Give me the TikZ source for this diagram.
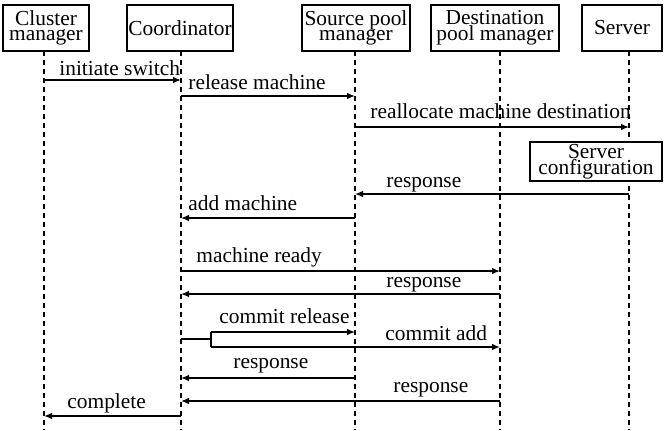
\documentclass[tikz,border=0pt]{standalone}
\usepackage{fontspec}
\setmainfont{Liberation Serif}
\usetikzlibrary{arrows.meta}

\begin{document}
\begin{tikzpicture}[x=0.5pt,y=-0.5pt,
  font=\fontsize{10.7}{7.8}\selectfont,
  actor/.style={draw, line width=0.9pt, fill=white, minimum height=23pt, inner sep=0pt, align=center},
  lifeline/.style={dash pattern=on 2.5pt off 2pt, line width=0.8pt},
  msg/.style={-{Latex[length=4pt,width=3.4pt]}, line width=0.8pt},
  lbl/.style={anchor=base west, inner sep=0pt}]

\useasboundingbox (0,0) rectangle (665,430);

%lifeline tops and ends
\coordinate (cm) at (44,51);
\coordinate (co) at (181,51);
\coordinate (src) at (355,51);
\coordinate (dst) at (500,51);
\coordinate (srv) at (629,51);
\foreach \p in {cm,co,src,dst,srv}
  \draw[lifeline] (\p) -- (\p |- 0,430);

\node[actor, minimum width=43pt] (cmbox) at (46,28) {Cluster\\manager};
\node[actor, minimum width=53pt] (cobox) at (180,28) {Coordinator};
\node[actor, minimum width=54pt] (srcbox) at (356,28) {Source pool\\manager};
\node[actor, minimum width=64pt] (dstbox) at (495,28) {Destination\\pool manager};
\node[actor, minimum width=40pt] (srvbox) at (622,28) {Server};

%switch request and release
\draw[msg] (cm |- 0,80) -- (co |- 0,80);
\node[lbl] at (59,75) {initiate switch};
\draw[msg] (co |- 0,96) -- (src |- 0,96);
\node[lbl] at (188,89) {release machine};
\draw[msg] (src |- 0,127) -- (srv |- 0,127);
\node[lbl] at (370,118) {reallocate machine destination};

\node[actor, minimum width=66pt, minimum height=19.5pt] (cfg) at (596,161.5) {Server\\configuration};

\draw[msg] (srv |- 0,194) -- (src |- 0,194);
\node[lbl] at (386,187) {response};
\draw[msg] (src |- 0,218) -- (co |- 0,218);
\node[lbl] at (188,210) {add machine};

%add on destination side
\draw[msg] (co |- 0,271) -- (dst |- 0,271);
\node[lbl] at (196,262) {machine ready};
\draw[msg] (dst |- 0,294) -- (co |- 0,294);
\node[lbl] at (386,287) {response};

%commit goes to both pools
\coordinate (fork) at (211,339);
\draw[line width=0.8pt] (co |- fork) -- (fork);
\draw[line width=0.8pt] ([yshift=3.5pt]fork) -- ([yshift=-4pt]fork);
\draw[msg] ([yshift=3.5pt]fork) -- (src |- 0,332);
\node[lbl] at (219,323) {commit release};
\draw[msg] ([yshift=-4pt]fork) -- (dst |- 0,347);
\node[lbl] at (385,340) {commit add};

\draw[msg] (src |- 0,378) -- (co |- 0,378);
\node[lbl] at (233,368) {response};
\draw[msg] (dst |- 0,401) -- (co |- 0,401);
\node[lbl] at (393,392) {response};
\draw[msg] (co |- 0,416) -- (cm |- 0,416);
\node[lbl] at (67,408) {complete};

\end{tikzpicture}
\end{document}
